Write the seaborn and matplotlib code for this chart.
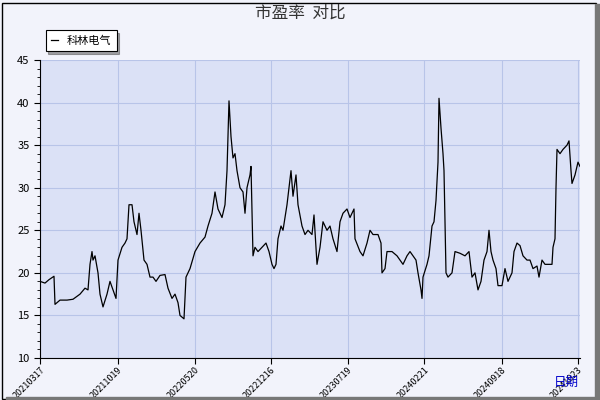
import matplotlib
matplotlib.use("Agg")
import matplotlib.pyplot as plt
import seaborn as sns
import pandas as pd
from matplotlib.patches import Rectangle

day = [0,5,9,14,15,20,27,33,40,45,48,50,52,53,55,58,60,63,67,70,73,76,78,82,85,87,89,92,94,97,99,101,104,107,110,113,116,120,125,128,132,135,138,140,144,146,
       150,155,160,165,168,172,175,178,182,185,187,189,191,193,195,197,200,203,205,207,210,211,213,215,218,222,226,229,232,234,236,238,241,243,247,249,251,253,256,258,262,265,268,272,274,277,280,283,287,290,293,297,300,303,307,
       310,314,315,320,323,327,330,333,338,341,342,345,347,352,357,360,363,367,370,373,376,378,381,382,383,387,389,392,394,396,398,399,401,403,404,406,408,412,415,
       420,425,429,432,435,438,441,444,447,449,451,453,456,458,462,465,468,472,474,477,480,483,487,490,493,497,499,502,505,508,512,513,515,516,517,520,523,527,529,531,532,535,538,540]
pe = [19,18.8,19.2,19.6,16.3,16.8,16.8,16.9,17.5,18.2,18.0,21,22.5,21.5,22,20,17.5,16,17.5,19,18,17,21.5,23,23.5,24,28,28,26,24.5,27,25,21.5,21,19.5,19.5,19,19.7,19.8,18.2,17,17.5,16.5,15,14.6,19.5,
      20.5,22.5,23.5,24.2,25.5,27,29.5,27.5,26.5,28,32,40.2,36,33.5,34,32,30,29.5,27,30,31.5,32.5,22,23,22.5,23,23.5,22.5,21,20.5,21,24,25.5,25,28,30,32,29,31.5,28,25.5,24.5,25,24.5,26.8,21,23,26,25,25.5,24,22.5,26,27,27.5,
      26.5,27.5,24,22.5,22,23.5,25,24.5,24.5,23.5,20,20.5,22.5,22.5,22,21.5,21,22,22.5,22,21.5,20,18,17,19.5,21,22,25.5,26,28.5,33,40.5,37,34,32,20,19.5,20,22.5,
      22.3,22,22.5,19.5,20,18,19,21.5,22.5,25,22.5,21.5,20.5,18.5,18.5,20.5,19,20,22.5,23.5,23.2,22,21.5,21.5,20.5,20.8,19.5,21.5,21,21,21,23,24,30,34.5,34,34.5,35,35.5,32,30.5,31.5,33,32.5]
tick_pos = [0, 77.5, 155, 230.6, 307.5, 384.4, 461.7, 537.5]
tick_labels = ["20210317","20211019","20220520","20221216","20230719","20240221","20240918","20241023"]

df = pd.DataFrame({"day": day, "pe": pe})

fig = plt.figure(figsize=(6, 4), dpi=100)
fig.patch.set_facecolor("#f2f3fb")
plt.rcParams['font.family'] = ['Noto Sans CJK SC', 'DejaVu Sans']
ax = fig.add_axes([40/600, 42/400, 540/600, 298/400])
ax.set_facecolor("#dbe1f6")
sns.lineplot(data=df, x="day", y="pe", ax=ax, color="black", linewidth=0.9, label="科林电气")
ax.set_xlim(0, 540)
ax.set_ylim(10, 45)
ax.set_yticks(range(10, 46, 5))
ax.set_yticks(range(10, 46, 1), minor=True)
ax.set_xticks(tick_pos)
ax.set_xticklabels(tick_labels, rotation=45, ha="right", rotation_mode="anchor", fontsize=6.5)
ax.tick_params(axis="y", labelsize=8, length=4)
ax.tick_params(axis="y", which="minor", length=2)
ax.tick_params(axis="x", length=4, pad=1)
ax.grid(True, color="#b8c4e8", linewidth=0.8)
for s in ["top", "right"]:
    ax.spines[s].set_visible(False)
ax.set_xlabel("")
ax.set_ylabel("")
fig.text(0.965, 0.035, "日期", color="#0000cc", fontsize=9, ha="right")
fig.text(0.5, 0.955, "市盈率  对比", fontsize=12, ha="center", color="#333333")
leg = ax.legend(loc="lower left", bbox_to_anchor=(0.0, 1.01), frameon=True, fontsize=8,
                handlelength=0.6, fancybox=False, shadow=True, edgecolor="black", borderpad=0.5)
leg.get_frame().set_linewidth(0.8)
fig.patches.append(Rectangle((0.003, 0.003), 0.99, 0.99, transform=fig.transFigure, fill=False, edgecolor="black", linewidth=1))
fig.patches.append(Rectangle((0.992, 0.0), 0.008, 0.99, transform=fig.transFigure, color="#777777"))
fig.patches.append(Rectangle((0.01, 0.0), 0.99, 0.008, transform=fig.transFigure, color="#777777"))
fig.savefig("out.png", dpi=100, facecolor=fig.get_facecolor())
